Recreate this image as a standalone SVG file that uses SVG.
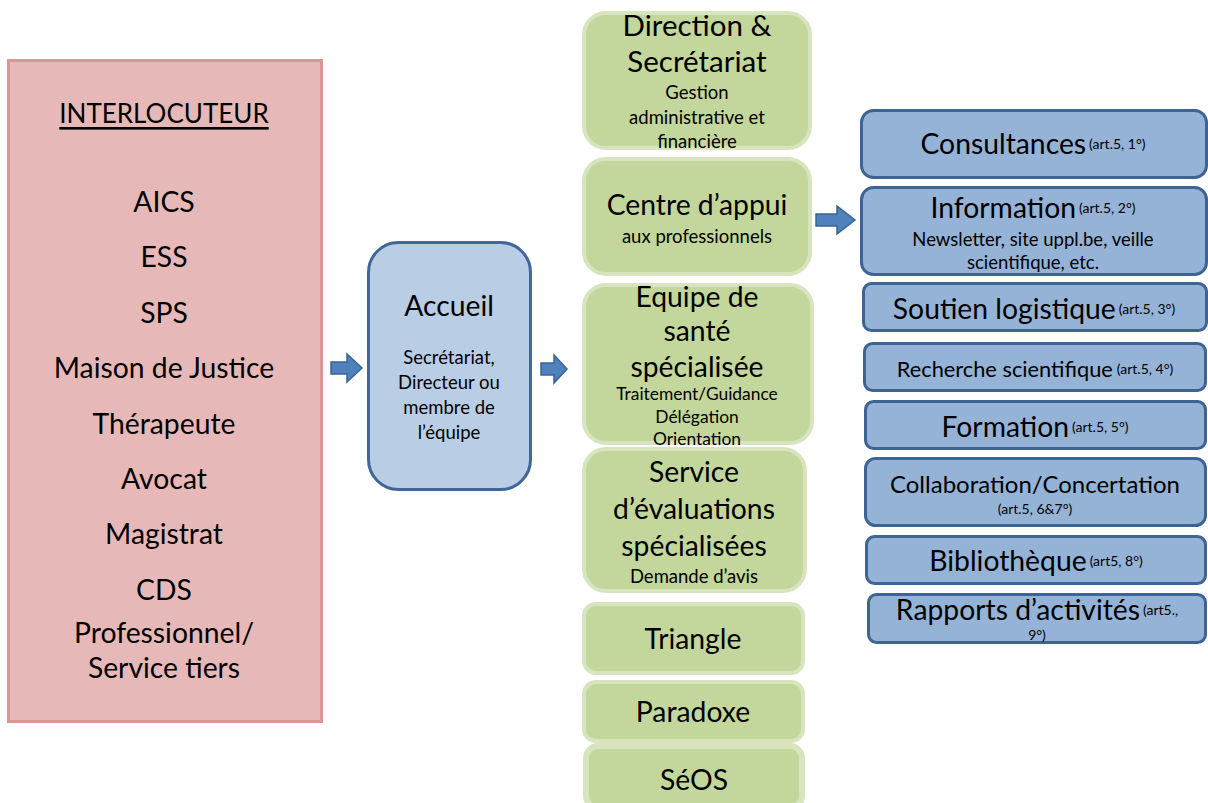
<svg xmlns="http://www.w3.org/2000/svg" width="1208" height="803" viewBox="0 0 1208 803">
<style>
text{font-family:Lato,"Open Sans","Liberation Sans",sans-serif;fill:#000;text-anchor:middle;dominant-baseline:central}
.pink{fill:#e6b9b8;stroke:#d99694;stroke-width:3}
.acc{fill:#b9cde5;stroke:#41669a;stroke-width:3}
.green{fill:#c3d69b;stroke:#d7e4bd;stroke-width:4}
.blue{fill:#95b3d7;stroke:#3e6494;stroke-width:3}
.arr{fill:#4f81bd;stroke:#3a6494;stroke-width:1.5}
.l{font-size:28.3px}
.m{font-size:18.5px}
.s{font-size:14px}
</style>
<rect width="1208" height="803" fill="#fff"/>
<g id="connectors">
<path class="arr" d="M331,362 h16 v-8 l15,14 l-15,14 v-8 h-16 z"/>
<path class="arr" d="M541,363 h13 v-8 l13,14 l-13,14 v-8 h-13 z"/>
<path class="arr" d="M816,214 h21 v-8 l18,14 l-18,14 v-8 h-21 z"/>
</g>
<g id="interlocuteur">
<rect class="pink" x="8.5" y="60.5" width="313" height="661"/>
<text x="164" y="113" style="font-size:26px" text-decoration="underline">INTERLOCUTEUR</text>
<text x="164" y="201" class="l">AICS</text>
<text x="164" y="256" class="l">ESS</text>
<text x="164" y="312" class="l">SPS</text>
<text x="164" y="367" class="l">Maison de Justice</text>
<text x="164" y="423" class="l">Thérapeute</text>
<text x="164" y="478" class="l">Avocat</text>
<text x="164" y="533" class="l">Magistrat</text>
<text x="164" y="589" class="l">CDS</text>
<text x="164" y="632" class="l">Professionnel/</text>
<text x="164" y="667" class="l">Service tiers</text>
</g>
<g id="accueil">
<rect class="acc" x="368.5" y="242.5" width="162" height="247" rx="30"/>
<text x="449" y="305" class="l">Accueil</text>
<text x="449" y="357" class="m">Secrétariat,</text>
<text x="449" y="382" class="m">Directeur ou</text>
<text x="449" y="407" class="m">membre de</text>
<text x="449" y="432" class="m">l’équipe</text>
</g>
<g id="direction">
<rect class="green" x="584" y="13" width="226" height="135" rx="22"/>
<text x="697" y="24" style="font-size:29.5px">Direction &amp;</text>
<text x="697" y="60" style="font-size:29.5px">Secrétariat</text>
<text x="697" y="92" class="m">Gestion</text>
<text x="697" y="117" class="m">administrative et</text>
<text x="697" y="141" class="m">financière</text>
</g>
<g id="centre">
<rect class="green" x="584" y="159" width="226" height="115" rx="22"/>
<text x="697" y="204" class="l">Centre d’appui</text>
<text x="697" y="236" class="m">aux professionnels</text>
</g>
<g id="equipe">
<rect class="green" x="584" y="285" width="228" height="158" rx="22"/>
<text x="697" y="296" class="l">Equipe de</text>
<text x="697" y="330" class="l">santé</text>
<text x="697" y="366" class="l">spécialisée</text>
<text x="697" y="393" style="font-size:17.4px">Traitement/Guidance</text>
<text x="697" y="416" style="font-size:17.4px">Délégation</text>
<text x="697" y="438" style="font-size:17.4px">Orientation</text>
</g>
<g id="service">
<rect class="green" x="584" y="449" width="221" height="142" rx="22"/>
<text x="694" y="471" class="l">Service</text>
<text x="694" y="508" class="l">d’évaluations</text>
<text x="694" y="545" class="l">spécialisées</text>
<text x="694" y="576" class="m">Demande d’avis</text>
</g>
<g id="triangle">
<rect class="green" x="584" y="604" width="219" height="69" rx="12"/>
<text x="693" y="638" class="l">Triangle</text>
</g>
<g id="paradoxe">
<rect class="green" x="584" y="682" width="219" height="59" rx="12"/>
<text x="693" y="711" class="l">Paradoxe</text>
</g>
<g id="seos">
<rect class="green" x="586" y="746" width="216" height="62" rx="12" style="stroke-width:6"/>
<text x="694" y="779" class="l">SéOS</text>
</g>
<g id="consultances">
<rect class="blue" x="861.5" y="110.5" width="345" height="67" rx="12"/>
<text x="1033" y="143"><tspan class="l">Consultances</tspan><tspan class="s" dx="3">(art.5, 1°)</tspan></text>
</g>
<g id="information">
<rect class="blue" x="861.5" y="187.5" width="345" height="87" rx="12"/>
<text x="1033" y="207"><tspan class="l">Information</tspan><tspan class="s" dx="3">(art.5, 2°)</tspan></text>
<text x="1033" y="239" class="m">Newsletter, site uppl.be, veille</text>
<text x="1033" y="262" class="m">scientifique, etc.</text>
</g>
<g id="soutien">
<rect class="blue" x="863.5" y="283.5" width="343" height="47" rx="8"/>
<text x="1034" y="308"><tspan class="l">Soutien logistique</tspan><tspan class="s" dx="3">(art.5, 3°)</tspan></text>
</g>
<g id="recherche">
<rect class="blue" x="864.5" y="343.5" width="341" height="47" rx="8"/>
<text x="1035" y="368"><tspan style="font-size:21.8px">Recherche scientifique</tspan><tspan class="s" dx="4">(art.5, 4°)</tspan></text>
</g>
<g id="formation">
<rect class="blue" x="865.5" y="401.5" width="340" height="47" rx="8"/>
<text x="1035" y="426"><tspan class="l">Formation</tspan><tspan class="s" dx="3">(art.5, 5°)</tspan></text>
</g>
<g id="collaboration">
<rect class="blue" x="865.5" y="458.5" width="340" height="67" rx="10"/>
<text x="1035" y="483" style="font-size:24px">Collaboration/Concertation</text>
<text x="1035" y="508" class="s">(art.5, 6&amp;7°)</text>
</g>
<g id="bibliotheque">
<rect class="blue" x="866.5" y="536.5" width="339" height="47" rx="8"/>
<text x="1036" y="560"><tspan class="l">Bibliothèque</tspan><tspan class="s" dx="3">(art5, 8°)</tspan></text>
</g>
<g id="rapports">
<rect class="blue" x="868.5" y="594.5" width="337" height="48" rx="8"/>
<text x="1037" y="609"><tspan class="l">Rapports d’activités</tspan><tspan class="s" dx="3">(art5.,</tspan></text>
<text x="1037" y="634" class="s">9°)</text>
</g>
</svg>
